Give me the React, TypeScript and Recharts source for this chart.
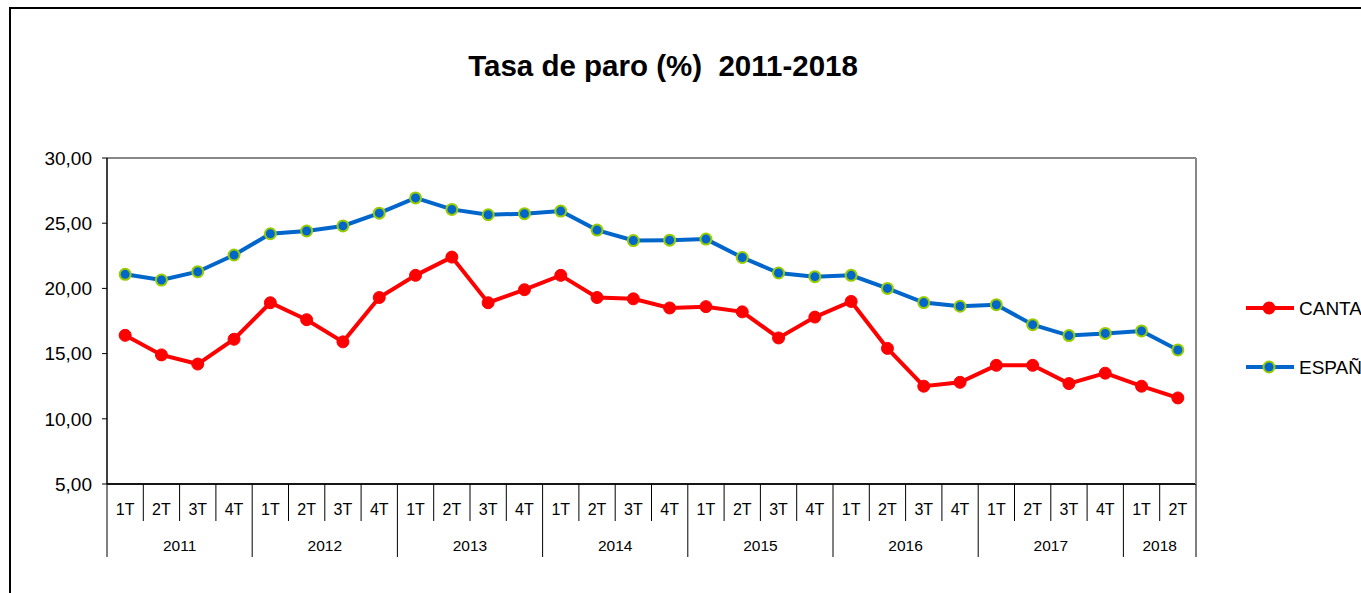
import React from 'react';
import { LineChart, Line, XAxis, YAxis, CartesianGrid, Legend, ReferenceLine } from 'recharts';

const quarters = [
  '1T', '2T', '3T', '4T',
  '1T', '2T', '3T', '4T',
  '1T', '2T', '3T', '4T',
  '1T', '2T', '3T', '4T',
  '1T', '2T', '3T', '4T',
  '1T', '2T', '3T', '4T',
  '1T', '2T', '3T', '4T',
  '1T', '2T',
];
const years = [
  '2011', '2011', '2011', '2011',
  '2012', '2012', '2012', '2012',
  '2013', '2013', '2013', '2013',
  '2014', '2014', '2014', '2014',
  '2015', '2015', '2015', '2015',
  '2016', '2016', '2016', '2016',
  '2017', '2017', '2017', '2017',
  '2018', '2018',
];
const cantabria = [
  16.4, 14.9, 14.2, 16.1,
  18.9, 17.6, 15.9, 19.3,
  21.0, 22.4, 18.9, 19.9,
  21.0, 19.3, 19.2, 18.5,
  18.6, 18.2, 16.2, 17.8,
  19.0, 15.4, 12.5, 12.8,
  14.1, 14.1, 12.7, 13.5,
  12.5, 11.6,
];
const espana = [
  21.08, 20.64, 21.28, 22.56,
  24.19, 24.40, 24.79, 25.77,
  26.94, 26.06, 25.65, 25.73,
  25.93, 24.47, 23.67, 23.70,
  23.78, 22.37, 21.18, 20.90,
  21.00, 20.00, 18.91, 18.63,
  18.75, 17.22, 16.38, 16.55,
  16.74, 15.28,
];
const yTicks = [5, 10, 15, 20, 25, 30];
const seriesNames = { cantabria: 'CANTABRIA', espana: 'ESPAÑA' };
const title = 'Tasa de paro (%)  2011-2018';

const data = quarters.map((q, i) => ({
  key: `${years[i]}-${q}`,
  q,
  year: years[i],
  cantabria: cantabria[i],
  espana: espana[i],
}));

const W = 1361;
const H = 593;
const PLOT_L = 107;
const PLOT_R = 1196;
const PLOT_T = 158;
const PLOT_B = 484;
const BAND = (PLOT_R - PLOT_L) / data.length;
const FONT = "'Liberation Sans', Arial, sans-serif";
const RED = '#FF0000';
const BLUE = '#0066CC';
const LIME = '#99CC00';

const QuarterTick = (props: any) => {
  const { x, index } = props;
  const left = x - BAND / 2;
  const isYearStart = index === 0 || years[index] !== years[index - 1];
  return (
    <g>
      {!isYearStart && (
        <line x1={left} x2={left} y1={PLOT_B} y2={PLOT_B + 37} stroke="#000" strokeWidth={1} />
      )}
      <text x={x} y={PLOT_B + 31} textAnchor="middle" fontSize={16} fontFamily={FONT} fill="#000">
        {quarters[index]}
      </text>
    </g>
  );
};

const YearTick = (props: any) => {
  const { x, index } = props;
  const left = x - BAND / 2;
  const isYearStart = index === 0 || years[index] !== years[index - 1];
  const isLast = index === data.length - 1;
  let count = 0;
  if (isYearStart) {
    for (let j = index; j < years.length && years[j] === years[index]; j++) count++;
  }
  return (
    <g>
      {isYearStart && (
        <>
          <line x1={left} x2={left} y1={PLOT_B} y2={PLOT_B + 73} stroke="#000" strokeWidth={1} />
          <text
            x={left + (count * BAND) / 2}
            y={PLOT_B + 67}
            textAnchor="middle"
            fontSize={15.5}
            fontFamily={FONT}
            fill="#000"
          >
            {years[index]}
          </text>
        </>
      )}
      {isLast && (
        <line x1={x + BAND / 2} x2={x + BAND / 2} y1={PLOT_B} y2={PLOT_B + 73} stroke="#000" strokeWidth={1} />
      )}
    </g>
  );
};

const LegendContent = () => {
  const items = [
    { name: seriesNames.cantabria, color: RED, fill: RED, stroke: RED, y: 14 },
    { name: seriesNames.espana, color: BLUE, fill: BLUE, stroke: LIME, y: 73 },
  ];
  return (
    <svg width={121} height={90} style={{ display: 'block' }}>
      {items.map((it) => (
        <g key={it.name}>
          <line x1={6} x2={54} y1={it.y} y2={it.y} stroke={it.color} strokeWidth={4} />
          <circle cx={29} cy={it.y} r={5.5} fill={it.fill} stroke={it.stroke} strokeWidth={2} />
          <text x={59} y={it.y + 7} fontSize={19} fontFamily={FONT} fill="#000">
            {it.name}
          </text>
        </g>
      ))}
    </svg>
  );
};

export default function App() {
  return (
    <div
      style={{
        position: 'absolute',
        left: 0,
        top: 0,
        width: W,
        height: H,
        overflow: 'hidden',
        background: '#fff',
        fontFamily: FONT,
      }}
    >
      <div
        style={{
          position: 'absolute',
          left: 9,
          top: 7,
          width: W - 9,
          height: H - 7,
          borderLeft: '2px solid #000',
          borderTop: '2px solid #000',
          boxSizing: 'border-box',
        }}
      />
      <div
        style={{
          position: 'absolute',
          left: 0,
          top: 51,
          width: 1326,
          textAlign: 'center',
          fontSize: 29.5,
          lineHeight: '29px',
          fontWeight: 'bold',
          fontFamily: FONT,
          whiteSpace: 'pre',
          color: '#000',
        }}
      >
        {title}
      </div>
      <div style={{ position: 'absolute', left: 0, top: 0 }}>
        <LineChart
          width={W}
          height={H}
          data={data}
          margin={{ top: PLOT_T, right: W - PLOT_R - 2, bottom: 36, left: 0 }}
        >
          <CartesianGrid vertical={false} stroke="#222" strokeWidth={1.3} />
          <XAxis
            xAxisId="q"
            dataKey="key"
            interval={0}
            height={37}
            tickLine={false}
            axisLine={{ stroke: '#000', strokeWidth: 1.5 }}
            padding={{ left: BAND / 2, right: BAND / 2 }}
            tick={<QuarterTick />}
          />
          <XAxis
            xAxisId="y"
            dataKey="key"
            interval={0}
            height={36}
            tickLine={false}
            axisLine={false}
            padding={{ left: BAND / 2, right: BAND / 2 }}
            tick={<YearTick />}
          />
          <YAxis
            yAxisId="l"
            width={PLOT_L}
            domain={[5, 30]}
            ticks={yTicks}
            interval={0}
            tickSize={5}
            tickMargin={10}
            tickLine={{ stroke: '#000' }}
            axisLine={{ stroke: '#000', strokeWidth: 1.5 }}
            tickFormatter={(v: number) => v.toFixed(2).replace('.', ',')}
            tick={{ fontSize: 19, fontFamily: FONT, fill: '#000' }}
          />
          <YAxis
            yAxisId="r"
            orientation="right"
            width={2}
            domain={[5, 30]}
            tick={false}
            tickLine={false}
            axisLine={{ stroke: '#888', strokeWidth: 2 }}
          />
          <ReferenceLine yAxisId="l" xAxisId="q" y={30} stroke="#888" strokeWidth={2} />
          <Legend
            layout="vertical"
            align="center"
            verticalAlign="middle"
            wrapperStyle={{ position: 'absolute', left: 1240, top: 294, width: 121, overflow: 'hidden' }}
            content={<LegendContent />}
          />
          <Line
            xAxisId="q"
            yAxisId="l"
            dataKey="cantabria"
            name={seriesNames.cantabria}
            stroke={RED}
            strokeWidth={4}
            dot={{ r: 6, fill: RED, stroke: RED, strokeWidth: 1 }}
            activeDot={false}
            isAnimationActive={false}
          />
          <Line
            xAxisId="q"
            yAxisId="l"
            dataKey="espana"
            name={seriesNames.espana}
            stroke={BLUE}
            strokeWidth={4}
            dot={{ r: 5.5, fill: BLUE, stroke: LIME, strokeWidth: 2 }}
            activeDot={false}
            isAnimationActive={false}
          />
        </LineChart>
      </div>
    </div>
  );
}
